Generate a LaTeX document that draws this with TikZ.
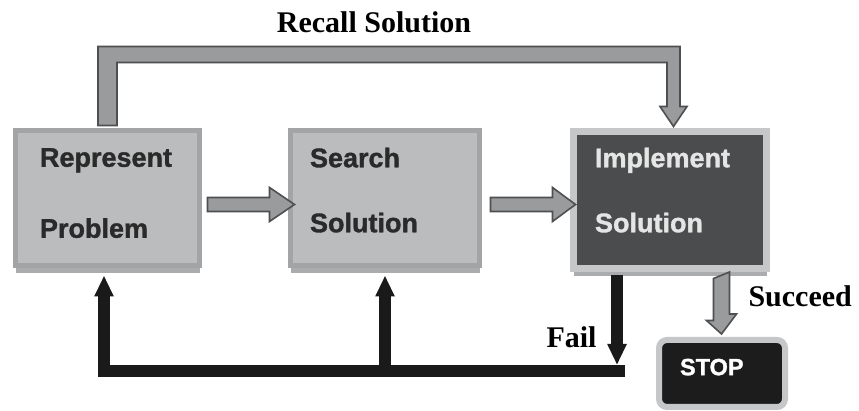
\documentclass[tikz,border=0pt]{standalone}
\usepackage{fontspec}
\setmainfont{Liberation Serif}
\setsansfont{Liberation Sans}[BoldFeatures={FakeBold=1.2}]
\usepackage{tikz}
\usetikzlibrary{calc, arrows.meta, shadows}

\definecolor{boxfill}{HTML}{BBBCBE}
\definecolor{boxedge}{HTML}{A3A4A6}
\definecolor{boxshade}{HTML}{ABACAE}
\definecolor{boxtext}{HTML}{2A2A2A}
\definecolor{darkfill}{HTML}{4B4C4E}
\definecolor{darkedge}{HTML}{C6C7C9}
\definecolor{stopfill}{HTML}{1C1C1C}
\definecolor{arrowfill}{HTML}{9A9B9D}
\definecolor{arrowedge}{HTML}{4E4F51}
\definecolor{loopblack}{HTML}{1A1A1A}

\begin{document}
\begin{tikzpicture}[
        x=1pt, y=1pt,
        % the three steps and the stop box
        stepbox/.style={draw=boxedge, fill=boxfill, line width=5pt, minimum width=184pt, minimum height=135pt,
            text width=150pt, align=left, inner sep=0pt, text=boxtext,
            font=\sffamily\bfseries\fontsize{27pt}{65pt}\selectfont,
            drop shadow={shadow xshift=0pt, shadow yshift=-8pt, fill=boxshade, opacity=1}},
        darkbox/.style={stepbox, draw=darkedge, fill=darkfill, line width=7pt, text=white!90!black},
        stopbox/.style={draw=darkedge, fill=stopfill, line width=6pt, rounded corners=8pt, minimum width=126pt, minimum height=67pt,
            text width=84pt, align=left, inner sep=0pt, text depth=13pt, text=white,
            font=\sffamily\bfseries\fontsize{23.5pt}{26pt}\selectfont},
        % connectors
        fatarrow/.style={draw=arrowedge, fill=arrowfill, line width=1.6pt, line join=miter},
        loopline/.style={draw=loopblack, line width=12pt},
        looptip/.style={-{Triangle[length=21pt, width=18pt]}},
        flowlabel/.style={font=\rmfamily\bfseries\fontsize{30pt}{36pt}\selectfont}
    ]

    \fill[white] (0,0) rectangle (859,411);

    % the boxes
    \node[stepbox, text width=135pt] (rep) at (107.5,213) {Represent\\[6pt]Problem\rule[-10pt]{0pt}{1pt}};
    \node[stepbox, minimum width=189pt] (srch) at (385,213) {Search\\Solution\rule[-16pt]{0pt}{1pt}};
    \node[darkbox, minimum width=193pt, minimum height=137pt] (impl) at (670,211) {Implement\\Solution\rule[-20pt]{0pt}{1pt}};
    \node[stopbox] (stop) at (722,37.5) {STOP};

    % forward arrows
    \draw[fatarrow] ($(rep.east)+(5.5,0.5)$) -- ++(62,0) -- ++(0,10) -- ++(25,-17) -- ++(-25,-17) -- ++(0,10) -- ++(-62,0) -- cycle;
    \draw[fatarrow] ($(srch.east)+(8.5,0.5)$) -- ++(62,0) -- ++(0,10) -- ++(23,-17) -- ++(-23,-17) -- ++(0,10) -- ++(-62,0) -- cycle;

    % recall path over the top
    \draw[fatarrow] ($(rep.north)+(-9.5,2.5)$) -- ++(0,79) -| ($(impl.north)+(10,21.5)$) -- ++(7,0)
        -- ($(impl.north)+(3.5,1.5)$) -- ++(-13.5,20) -- ++(7,0) -- ++(0,44) -| ($(rep.north)+(9.5,2.5)$) -- cycle;
    \node[flowlabel, anchor=base] (recall) at (374,378) {Recall Solution};

    % succeed
    \draw[fatarrow] ($(impl.south)+(43.5,-6.5)$) -- ++(0,-42) -- ++(-7,0) -- ($(stop.north)+(-0.5,3)$)
        -- ++(15,20) -- ++(-7,0) -- ++(0,42) -- cycle;
    \node[flowlabel, anchor=base west] (succeed) at (745,104) {Succeed};

    % fail and the loop back
    \coordinate (loopend) at (625,40);
    \coordinate (failtop) at ($(impl.south)+(-53,-3.5)$);
    \draw[loopline, looptip, shorten >=6pt] (failtop) -- (failtop |- loopend);
    \draw[loopline, looptip] (loopend) -| ($(rep.south)+(-3.5,-7.5)$);
    \draw[loopline, looptip] (srch.south |- loopend) -- ($(srch.south)+(0,-7.5)$);
    \node[flowlabel, anchor=base west] (fail) at (543,63) {Fail};

\end{tikzpicture}
\end{document}
